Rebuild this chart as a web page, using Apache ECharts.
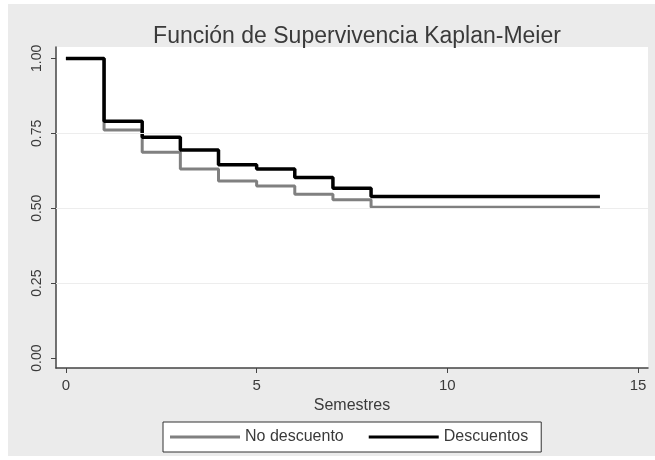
<!DOCTYPE html>
<html>
<head>
<meta charset="utf-8">
<script src="https://cdn.jsdelivr.net/npm/echarts@6/dist/echarts.min.js"></script>
<style>html,body{margin:0;padding:0;background:#fff}#c{width:655px;height:460px}</style>
</head>
<body>
<div id="c"></div>
<script>
const times = [0, 1, 2, 3, 4, 5, 6, 7, 8, 14];
const noDescuento = [1, 0.761, 0.687, 0.631, 0.591, 0.574, 0.547, 0.528, 0.503, 0.503];
const descuentos = [1, 0.790, 0.737, 0.694, 0.645, 0.631, 0.603, 0.567, 0.539, 0.539];
const xTicks = [0, 5, 10, 15];
const yTicks = [0, 0.25, 0.5, 0.75, 1];
const gridVals = [0.25, 0.5, 0.75];

const font = 'Liberation Sans, Arial, sans-serif';
const txt = '#3a3a3a';
const axisCol = '#444';

const chart = echarts.init(document.getElementById('c'), null, {renderer: 'canvas'});
chart.setOption({
  backgroundColor: '#fff',
  animation: false,
  graphic: [{
    type: 'rect', z: -10, silent: true,
    shape: {x: 8, y: 4, width: 647, height: 452},
    style: {fill: '#ebebeb'}
  }],
  title: {
    text: 'Función de Supervivencia Kaplan-Meier',
    left: 352, textAlign: 'center', top: 20,
    textStyle: {fontFamily: font, fontSize: 23, fontWeight: 'normal', color: txt}
  },
  grid: {
    left: 56, right: 7, top: 47, bottom: 92,
    show: true, backgroundColor: '#fff', borderWidth: 0,
    outerBoundsMode: 'none'
  },
  legend: {
    data: ['No descuento', 'Descuentos'],
    left: 163, top: 422,
    padding: [7, 13, 7, 7],
    itemGap: 25, itemWidth: 70, itemHeight: 3,
    icon: 'rect',
    backgroundColor: '#fff', borderColor: '#333', borderWidth: 1,
    textStyle: {fontFamily: font, fontSize: 16, color: txt, lineHeight: 16}
  },
  xAxis: {
    type: 'value', min: -0.26, max: 15.26,
    name: 'Semestres', nameLocation: 'middle', nameGap: 28,
    nameTextStyle: {fontFamily: font, fontSize: 16, color: txt},
    axisLine: {show: true, onZero: false, lineStyle: {color: axisCol, width: 1.5}},
    axisTick: {show: true, length: 5, customValues: xTicks, lineStyle: {color: axisCol}},
    axisLabel: {customValues: xTicks, margin: 10, fontFamily: font, fontSize: 15, color: txt},
    splitLine: {show: false}
  },
  yAxis: {
    type: 'value', min: -0.033, max: 1.038,
    axisLine: {show: true, onZero: false, lineStyle: {color: axisCol, width: 1.5}},
    axisTick: {show: true, length: 5, customValues: yTicks, lineStyle: {color: axisCol}},
    axisLabel: {customValues: yTicks, rotate: 90, margin: 12, fontFamily: font, fontSize: 14, color: txt,
      formatter: v => v.toFixed(2)},
    splitLine: {show: false}
  },
  series: [
    {
      name: 'gridlines', type: 'line', data: [], z: 1, silent: true,
      markLine: {
        silent: true, symbol: 'none', label: {show: false},
        lineStyle: {color: '#ededed', width: 1, type: 'solid'},
        data: gridVals.map(v => ({yAxis: v}))
      }
    },
    {
      name: 'No descuento', type: 'line', step: 'end', symbol: 'none', z: 2,
      color: '#808080',
      lineStyle: {color: '#808080', width: 3},
      data: times.map((t, i) => [t, noDescuento[i]])
    },
    {
      name: 'Descuentos', type: 'line', step: 'end', symbol: 'none', z: 3,
      color: '#000',
      lineStyle: {color: '#000', width: 3.5},
      data: times.map((t, i) => [t, descuentos[i]])
    }
  ]
});
</script>
</body>
</html>
